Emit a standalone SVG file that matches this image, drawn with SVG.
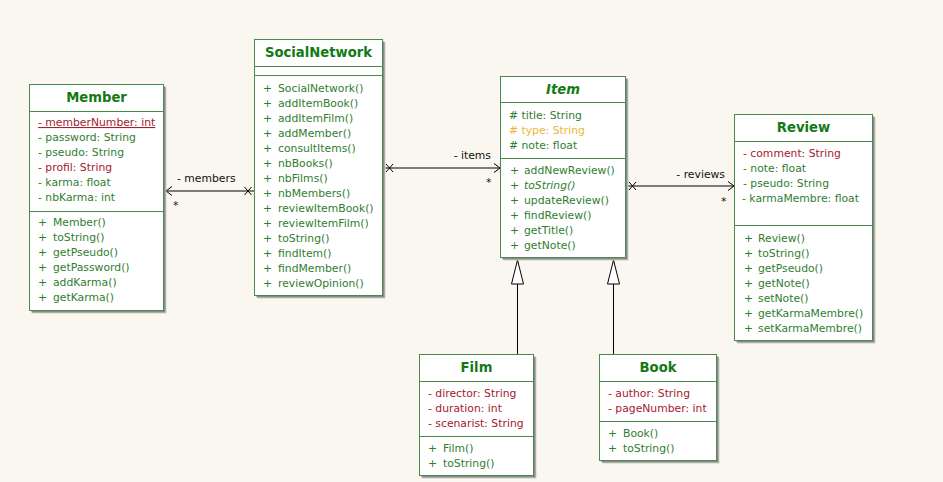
<svg xmlns="http://www.w3.org/2000/svg" width="943" height="482" viewBox="0 0 943 482">
<style>
text{font-family:"DejaVu Sans","Liberation Sans",sans-serif;font-size:10.8px}
.t{font-size:13.2px;font-weight:bold;fill:#137a13;text-anchor:middle}
.g{fill:#2f7d2f}
.r{fill:#a3202e}
.y{fill:#e8b73a}
.box{fill:#fff;stroke:#4b8a4b;stroke-width:1}
.sh1{fill:#8a8a8a}
.sh2{fill:#cfcfcf}
.div{stroke:#4b8a4b;stroke-width:1}
.lbl{fill:#111}
.con{stroke:#000;stroke-width:1;fill:none}
</style>
<defs>
<marker id="open" markerUnits="userSpaceOnUse" markerWidth="12" markerHeight="12" viewBox="-10 -6 12 12" refX="0" refY="0" orient="auto"><path d="M-6,-4.5 L0,0 L-6,4.5" fill="none" stroke="#000" stroke-width="1"/></marker>
<marker id="xs" markerUnits="userSpaceOnUse" markerWidth="14" markerHeight="12" viewBox="-1 -6 14 12" refX="0" refY="0" orient="auto"><path d="M3,-4 L10,4 M3,4 L10,-4" fill="none" stroke="#000" stroke-width="1"/></marker>
<marker id="gen" markerUnits="userSpaceOnUse" markerWidth="28" markerHeight="16" viewBox="-26 -8 28 16" refX="0" refY="0" orient="auto"><path d="M0,0 L-24,-6 L-24,6 Z" fill="#fff" stroke="#000" stroke-width="1"/></marker>
</defs>
<rect width="943" height="482" fill="#f9f7ef"/>

<g id="connectors">
<path class="con" d="M254.5,191 L166,191" marker-start="url(#xs)" marker-end="url(#open)"/>
<path class="con" d="M383,168 L500,168" marker-start="url(#xs)" marker-end="url(#open)"/>
<path class="con" d="M626,186 L734,186" marker-start="url(#xs)" marker-end="url(#open)"/>
<path class="con" d="M517.5,354 L517.5,260" marker-end="url(#gen)"/>
<path class="con" d="M613.5,354 L613.5,260" marker-end="url(#gen)"/>
<text class="lbl" x="177" y="182">- members</text>
<text class="lbl" x="173" y="209">*</text>
<text class="lbl" x="491" y="159" text-anchor="end">- items</text>
<text class="lbl" x="486" y="186">*</text>
<text class="lbl" x="725" y="178" text-anchor="end">- reviews</text>
<text class="lbl" x="721" y="205">*</text>
</g>

<g id="Member">
<rect class="sh2" x="32.5" y="87.5" width="134" height="226"/>
<rect class="sh1" x="31.5" y="86.5" width="134" height="226"/>
<rect class="box" x="29.5" y="84.5" width="134" height="226"/>
<line class="div" x1="29.5" y1="111.5" x2="163.5" y2="111.5"/>
<line class="div" x1="29.5" y1="211.5" x2="163.5" y2="211.5"/>
<text class="t" x="96.5" y="102">Member</text>
<text class="r" x="38" y="126" text-decoration="underline">- memberNumber: int</text>
<text class="g" x="38" y="141">- password: String</text>
<text class="g" x="38" y="156">- pseudo: String</text>
<text class="r" x="38" y="171">- profil: String</text>
<text class="g" x="38" y="186">- karma: float</text>
<text class="g" x="38" y="201">- nbKarma: int</text>
<g class="g">
<text x="38" y="226">+</text><text x="53" y="226">Member()</text>
<text x="38" y="241">+</text><text x="53" y="241">toString()</text>
<text x="38" y="256">+</text><text x="53" y="256">getPseudo()</text>
<text x="38" y="271">+</text><text x="53" y="271">getPassword()</text>
<text x="38" y="286">+</text><text x="53" y="286">addKarma()</text>
<text x="38" y="301">+</text><text x="53" y="301">getKarma()</text>
</g>
</g>

<g id="SocialNetwork">
<rect class="sh2" x="257.5" y="42.5" width="128" height="256"/>
<rect class="sh1" x="256.5" y="41.5" width="128" height="256"/>
<rect class="box" x="254.5" y="39.5" width="128" height="256"/>
<line class="div" x1="254.5" y1="66.5" x2="382.5" y2="66.5"/>
<line class="div" x1="254.5" y1="75.5" x2="382.5" y2="75.5"/>
<text class="t" x="318.5" y="57">SocialNetwork</text>
<g class="g">
<text x="263" y="91.5">+</text><text x="278" y="91.5">SocialNetwork()</text>
<text x="263" y="106.5">+</text><text x="278" y="106.5">addItemBook()</text>
<text x="263" y="121.5">+</text><text x="278" y="121.5">addItemFilm()</text>
<text x="263" y="136.5">+</text><text x="278" y="136.5">addMember()</text>
<text x="263" y="151.5">+</text><text x="278" y="151.5">consultItems()</text>
<text x="263" y="166.5">+</text><text x="278" y="166.5">nbBooks()</text>
<text x="263" y="181.5">+</text><text x="278" y="181.5">nbFilms()</text>
<text x="263" y="196.5">+</text><text x="278" y="196.5">nbMembers()</text>
<text x="263" y="211.5">+</text><text x="278" y="211.5">reviewItemBook()</text>
<text x="263" y="226.5">+</text><text x="278" y="226.5">reviewItemFilm()</text>
<text x="263" y="241.5">+</text><text x="278" y="241.5">toString()</text>
<text x="263" y="256.5">+</text><text x="278" y="256.5">findItem()</text>
<text x="263" y="271.5">+</text><text x="278" y="271.5">findMember()</text>
<text x="263" y="286.5">+</text><text x="278" y="286.5">reviewOpinion()</text>
</g>
</g>

<g id="Item">
<rect class="sh2" x="503.5" y="79.5" width="125" height="181"/>
<rect class="sh1" x="502.5" y="78.5" width="125" height="181"/>
<rect class="box" x="500.5" y="76.5" width="125" height="181"/>
<line class="div" x1="500.5" y1="102.5" x2="625.5" y2="102.5"/>
<line class="div" x1="500.5" y1="158.5" x2="625.5" y2="158.5"/>
<text class="t" x="563" y="94" font-style="italic">Item</text>
<text class="g" x="509" y="118.5"># title: String</text>
<text class="y" x="509" y="133.5"># type: String</text>
<text class="g" x="509" y="148.5"># note: float</text>
<g class="g">
<text x="510" y="174">+</text><text x="524" y="174">addNewReview()</text>
<text x="510" y="189" font-style="italic">+</text><text x="524" y="189" font-style="italic">toString()</text>
<text x="510" y="204">+</text><text x="524" y="204">updateReview()</text>
<text x="510" y="219">+</text><text x="524" y="219">findReview()</text>
<text x="510" y="234">+</text><text x="524" y="234">getTitle()</text>
<text x="510" y="249">+</text><text x="524" y="249">getNote()</text>
</g>
</g>

<g id="Review">
<rect class="sh2" x="737.5" y="117.5" width="138" height="226"/>
<rect class="sh1" x="736.5" y="116.5" width="138" height="226"/>
<rect class="box" x="734.5" y="114.5" width="138" height="226"/>
<line class="div" x1="734.5" y1="141.5" x2="872.5" y2="141.5"/>
<line class="div" x1="734.5" y1="225.5" x2="872.5" y2="225.5"/>
<text class="t" x="803.5" y="132">Review</text>
<text class="r" x="743" y="156.5">- comment: String</text>
<text class="g" x="743" y="171.5">- note: float</text>
<text class="g" x="743" y="186.5">- pseudo: String</text>
<text class="g" x="742" y="202">- karmaMembre: float</text>
<g class="g">
<text x="744" y="241.5">+</text><text x="758" y="241.5">Review()</text>
<text x="744" y="256.5">+</text><text x="758" y="256.5">toString()</text>
<text x="744" y="271.5">+</text><text x="758" y="271.5">getPseudo()</text>
<text x="744" y="286.5">+</text><text x="758" y="286.5">getNote()</text>
<text x="744" y="301.5">+</text><text x="758" y="301.5">setNote()</text>
<text x="744" y="316.5">+</text><text x="758" y="316.5">getKarmaMembre()</text>
<text x="744" y="331.5">+</text><text x="758" y="331.5">setKarmaMembre()</text>
</g>
</g>

<g id="Film">
<rect class="sh2" x="422.5" y="357.5" width="114" height="121"/>
<rect class="sh1" x="421.5" y="356.5" width="114" height="121"/>
<rect class="box" x="419.5" y="354.5" width="114" height="121"/>
<line class="div" x1="419.5" y1="381.5" x2="533.5" y2="381.5"/>
<line class="div" x1="419.5" y1="436.5" x2="533.5" y2="436.5"/>
<text class="t" x="476.5" y="371.5">Film</text>
<text class="r" x="428" y="396.5">- director: String</text>
<text class="r" x="428" y="411.5">- duration: int</text>
<text class="r" x="428" y="426.5">- scenarist: String</text>
<g class="g">
<text x="428" y="451.5">+</text><text x="443" y="451.5">Film()</text>
<text x="428" y="466.5">+</text><text x="443" y="466.5">toString()</text>
</g>
</g>

<g id="Book">
<rect class="sh2" x="602.5" y="357.5" width="117" height="106"/>
<rect class="sh1" x="601.5" y="356.5" width="117" height="106"/>
<rect class="box" x="599.5" y="354.5" width="117" height="106"/>
<line class="div" x1="599.5" y1="381.5" x2="716.5" y2="381.5"/>
<line class="div" x1="599.5" y1="421.5" x2="716.5" y2="421.5"/>
<text class="t" x="658" y="371.5">Book</text>
<text class="r" x="608" y="396.5">- author: String</text>
<text class="r" x="608" y="411.5">- pageNumber: int</text>
<g class="g">
<text x="608" y="436.5">+</text><text x="623" y="436.5">Book()</text>
<text x="608" y="451.5">+</text><text x="623" y="451.5">toString()</text>
</g>
</g>
</svg>
